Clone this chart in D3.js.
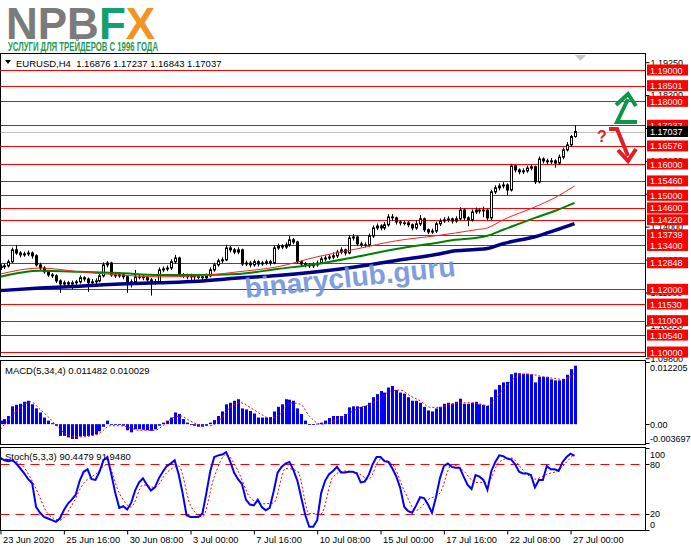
<!DOCTYPE html>
<html>
<head>
<meta charset="utf-8">
<script src="https://cdn.jsdelivr.net/npm/d3@7"></script>
<style>
body{margin:0;background:#fff;}
svg{display:block;font-family:'Liberation Sans',Arial,sans-serif;}
</style>
</head>
<body>
<div id="chart"></div>
<script>
// EURUSD H4, 23 Jun 2020 00:00 .. 27 Jul 2020 04:00 (146 bars)
const opens = [1.1270,1.1272,1.1275,1.1288,1.1326,1.1316,1.1310,1.1313,1.1316,1.1307,
 1.1278,1.1268,1.1256,1.1246,1.1243,1.1227,1.1217,1.1221,1.1217,1.1221,
 1.1224,1.1237,1.1233,1.1221,1.1224,1.1227,1.1243,1.1278,1.1284,1.1246,
 1.1243,1.1246,1.1240,1.1221,1.1224,1.1240,1.1240,1.1237,1.1230,1.1221,
 1.1224,1.1262,1.1265,1.1268,1.1288,1.1300,1.1246,1.1243,1.1240,1.1243,
 1.1240,1.1240,1.1237,1.1243,1.1262,1.1278,1.1291,1.1294,1.1332,1.1326,
 1.1319,1.1326,1.1281,1.1284,1.1278,1.1288,1.1281,1.1284,1.1288,1.1284,
 1.1332,1.1339,1.1335,1.1342,1.1358,1.1351,1.1288,1.1281,1.1278,1.1275,
 1.1278,1.1284,1.1297,1.1300,1.1303,1.1307,1.1319,1.1326,1.1316,1.1364,
 1.1367,1.1345,1.1342,1.1342,1.1370,1.1396,1.1402,1.1396,1.1406,1.1431,
 1.1428,1.1415,1.1412,1.1412,1.1406,1.1396,1.1409,1.1425,1.1390,1.1383,
 1.1386,1.1409,1.1418,1.1422,1.1425,1.1418,1.1425,1.1453,1.1428,1.1422,
 1.1447,1.1453,1.1450,1.1453,1.1428,1.1511,1.1524,1.1530,1.1533,1.1517,
 1.1594,1.1581,1.1575,1.1578,1.1587,1.1591,1.1543,1.1616,1.1610,1.1607,
 1.1610,1.1603,1.1622,1.1645,1.1661,1.16876];
const highs = [1.1280,1.1282,1.1295,1.1333,1.1342,1.1322,1.1320,1.1324,1.1321,1.1312,
 1.1285,1.1274,1.1262,1.1252,1.1248,1.1232,1.1228,1.1226,1.1228,1.1230,
 1.1244,1.1242,1.1238,1.1233,1.1235,1.1250,1.1286,1.1290,1.1288,1.1254,
 1.1253,1.1252,1.1244,1.1232,1.1262,1.1248,1.1246,1.1242,1.1236,1.1233,
 1.1270,1.1273,1.1276,1.1296,1.1310,1.1304,1.1252,1.1250,1.1250,1.1249,
 1.1247,1.1246,1.1250,1.1270,1.1285,1.1298,1.1302,1.1342,1.1338,1.1332,
 1.1334,1.1330,1.1292,1.1290,1.1295,1.1293,1.1291,1.1295,1.1294,1.1340,
 1.1346,1.1344,1.1350,1.1370,1.1364,1.1355,1.1292,1.1287,1.1284,1.1286,
 1.1292,1.1305,1.1308,1.1312,1.1318,1.1326,1.1334,1.1330,1.1372,1.1376,
 1.1371,1.1352,1.1350,1.1378,1.1404,1.1410,1.1408,1.1414,1.1440,1.1440,
 1.1432,1.1421,1.1420,1.1418,1.1410,1.1420,1.1437,1.1429,1.1394,1.1394,
 1.1416,1.1426,1.1430,1.1433,1.1429,1.1433,1.1462,1.1458,1.1433,1.1455,
 1.1461,1.1460,1.1464,1.1457,1.1518,1.1532,1.1538,1.1542,1.1538,1.1601,
 1.1598,1.1586,1.1586,1.1595,1.1600,1.1595,1.1624,1.1621,1.1617,1.1619,
 1.1615,1.1630,1.1652,1.1670,1.1693,1.17237];
const lows = [1.1262,1.1265,1.1270,1.1284,1.1310,1.1302,1.1304,1.1306,1.1298,1.1272,
 1.1262,1.1250,1.1240,1.1236,1.1220,1.1189,1.1208,1.1205,1.1200,1.1212,
 1.1218,1.1225,1.1192,1.1212,1.1216,1.1222,1.1238,1.1270,1.1240,1.1236,
 1.1237,1.1232,1.1189,1.1206,1.1218,1.1232,1.1229,1.1222,1.1180,1.1214,
 1.1220,1.1255,1.1258,1.1262,1.1282,1.1240,1.1236,1.1232,1.1230,1.1226,
 1.1232,1.1228,1.1230,1.1238,1.1256,1.1272,1.1284,1.1290,1.1318,1.1312,
 1.1312,1.1275,1.1274,1.1270,1.1272,1.1273,1.1275,1.1278,1.1276,1.1280,
 1.1326,1.1328,1.1329,1.1336,1.1344,1.1282,1.1273,1.1270,1.1268,1.1268,
 1.1272,1.1280,1.1290,1.1294,1.1296,1.1300,1.1312,1.1308,1.1312,1.1356,
 1.1338,1.1334,1.1334,1.1336,1.1364,1.1389,1.1388,1.1389,1.1400,1.1418,
 1.1407,1.1404,1.1404,1.1398,1.1388,1.1390,1.1402,1.1383,1.1376,1.1377,
 1.1380,1.1402,1.1412,1.1414,1.1410,1.1412,1.1420,1.1420,1.1402,1.1416,
 1.1440,1.1442,1.1430,1.1420,1.1420,1.1504,1.1516,1.1522,1.1500,1.1512,
 1.1573,1.1567,1.1568,1.1572,1.1580,1.1536,1.1538,1.1602,1.1598,1.1600,
 1.1588,1.1597,1.1615,1.1640,1.1655,1.16843];
const closes = [1.1272,1.1275,1.1288,1.1326,1.1316,1.1310,1.1313,1.1316,1.1307,1.1278,
 1.1268,1.1256,1.1246,1.1243,1.1227,1.1217,1.1221,1.1217,1.1221,1.1224,
 1.1237,1.1233,1.1221,1.1224,1.1227,1.1243,1.1278,1.1284,1.1246,1.1243,
 1.1246,1.1240,1.1221,1.1224,1.1240,1.1240,1.1237,1.1230,1.1221,1.1224,
 1.1262,1.1265,1.1268,1.1288,1.1300,1.1246,1.1243,1.1240,1.1243,1.1240,
 1.1240,1.1237,1.1243,1.1262,1.1278,1.1291,1.1294,1.1332,1.1326,1.1319,
 1.1326,1.1281,1.1284,1.1278,1.1288,1.1281,1.1284,1.1288,1.1284,1.1332,
 1.1339,1.1335,1.1342,1.1358,1.1351,1.1288,1.1281,1.1278,1.1275,1.1278,
 1.1284,1.1297,1.1300,1.1303,1.1307,1.1319,1.1326,1.1316,1.1364,1.1367,
 1.1345,1.1342,1.1342,1.1370,1.1396,1.1402,1.1396,1.1406,1.1431,1.1428,
 1.1415,1.1412,1.1412,1.1406,1.1396,1.1409,1.1425,1.1390,1.1383,1.1386,
 1.1409,1.1418,1.1422,1.1425,1.1418,1.1425,1.1453,1.1428,1.1422,1.1447,
 1.1453,1.1450,1.1453,1.1428,1.1511,1.1524,1.1530,1.1533,1.1517,1.1594,
 1.1581,1.1575,1.1578,1.1587,1.1591,1.1543,1.1616,1.1610,1.1607,1.1610,
 1.1603,1.1622,1.1645,1.1661,1.16876,1.17037];

// moving averages, read at these bars
const maBars = [0,10,20,30,40,50,60,70,80,90,100,110,115,120,123,127,135,140,145];
const maFast = [1.1249,1.1268,1.1256,1.1246,1.1240,1.1243,1.1256,1.1272,1.1304,1.1329,1.1355,1.1371,1.1380,1.1390,1.1396,1.1422,1.1463,1.1492,1.1530];
const maMid  = [1.1240,1.1259,1.1256,1.1252,1.1246,1.1246,1.1249,1.1265,1.1281,1.1304,1.1329,1.1348,1.1358,1.1364,1.1371,1.1390,1.1428,1.1450,1.1476];
const maSlow = [1.1196,1.1204,1.1210,1.1217,1.1221,1.1226,1.1236,1.1244,1.1256,1.1272,1.1292,1.1311,1.1323,1.1327,1.1330,1.1346,1.1368,1.1388,1.1410];

// horizontal levels drawn on the chart
const levels = [1.19000,1.18501,1.18000,1.17237,1.16576,1.16000,1.15460,1.15000,1.14600,1.14220,1.13739,1.13400,1.12848,1.12000,1.11530,1.11000,1.10540,1.10000];
const lastPrice = 1.17037;
const priceTicks = [1.19250,1.18200,1.17150,1.16100,1.15050,1.14000,1.12950,1.11900,1.10850,1.09800];

// MACD(5,34,4)
const macdHist = [0.0007,0.0010,0.0016,0.0035,0.0038,0.0040,0.0044,0.0046,0.0039,0.0031,
 0.0023,0.0013,0.0007,0.0002,-0.0003,-0.0023,-0.0023,-0.0026,-0.0029,-0.0029,
 -0.0024,-0.0023,-0.0023,-0.0022,-0.0020,-0.0014,-0.0005,0.0007,0.0000,0.0000,
 -0.0001,-0.0003,-0.0012,-0.0016,-0.0010,-0.0010,-0.0011,-0.0012,-0.0013,-0.0010,
 -0.0003,0.0003,0.0007,0.0013,0.0023,0.0020,0.0010,0.0003,-0.0001,-0.0003,
 -0.0005,-0.0005,-0.0003,0.0003,0.0008,0.0016,0.0025,0.0039,0.0042,0.0046,
 0.0049,0.0031,0.0029,0.0026,0.0021,0.0013,0.0013,0.0013,0.0014,0.0025,
 0.0034,0.0039,0.0049,0.0048,0.0046,0.0031,0.0020,0.0007,0.0000,-0.0001,
 0.0001,0.0003,0.0007,0.0012,0.0016,0.0016,0.0016,0.0020,0.0033,0.0035,
 0.0035,0.0034,0.0036,0.0042,0.0053,0.0059,0.0065,0.0062,0.0072,0.0075,
 0.0067,0.0062,0.0060,0.0053,0.0046,0.0046,0.0042,0.0034,0.0027,0.0025,
 0.0031,0.0034,0.0040,0.0042,0.0040,0.0044,0.0050,0.0040,0.0040,0.0042,
 0.0044,0.0039,0.0038,0.0036,0.0053,0.0068,0.0077,0.0082,0.0083,0.0098,
 0.0101,0.0100,0.0099,0.0099,0.0098,0.0082,0.0093,0.0093,0.0093,0.0088,
 0.0086,0.0086,0.0089,0.0097,0.0108,0.011482];
const macdSigBars = [0,2.5,5,7.6,10,12.6,15,17.7,20,22.7,25,27.8,30,33,35,39,41,43,45.5,48,50.5,53,55.6,58,60.6,63,65.7,68,70.7,73,75.8,78,81,83,86,88.4,91,93.5,96,98.5,101,103.6,106,108.6,111,113.7,116,118.7,121,123,124.6,127,129.8,132,134.7,137,139.8,142,145];
const macdSig = [-0.0010,0.0013,0.0033,0.0044,0.0029,0.0010,-0.0010,-0.0023,-0.0025,-0.0023,-0.0018,-0.0003,-0.0003,-0.0008,-0.0012,-0.0012,-0.0003,0.0010,0.0016,0.0006,-0.0002,-0.0003,0.0010,0.0033,0.0042,0.0033,0.0020,0.0012,0.0020,0.0042,0.0039,0.0016,0.0000,0.0003,0.0013,0.0023,0.0033,0.0039,0.0051,0.0065,0.0067,0.0055,0.0046,0.0033,0.0033,0.0039,0.0042,0.0042,0.0040,0.0036,0.0046,0.0069,0.0090,0.0098,0.0097,0.0093,0.0090,0.0088,0.010029];

// Stochastic(5,3,3)
const stochMain = [88,85,84,85,81,75,69,62,57,28,
 21,16,14,12,10,14,24,32,37,43,
 60,71,74,62,61,71,85,89,68,45,
 27,29,25,33,48,58,63,55,48,52,
 63,71,78,81,85,68,45,18,16,16,
 16,20,45,72,89,91,92,95,84,70,
 62,56,37,31,30,37,28,24,27,47,
 70,77,81,83,73,60,39,18,4,4,
 12,45,60,68,72,77,70,70,71,71,
 69,58,59,67,80,89,89,84,83,75,
 65,51,28,23,21,30,40,39,31,21,
 40,63,78,81,77,76,76,65,55,50,
 67,65,61,49,72,83,91,90,87,86,
 80,71,69,69,67,52,61,61,78,74,
 74,72,83,89,93,90.4479];
const stochSigBars = [0,3,6,9,12,15,18,21,24,27,30,33,36,39,42,45,48,51,54,57,60,63,66,69,72,75,78,81,84,87,90,93,96,99,102,105,108,111,114,117,120,123,126,129,132,135,138,141,144,145];
const stochSig = [86,85,76,50,20,12,30,57,68,80,45,28,55,52,70,78,30,16,65,92,72,40,32,33,75,72,20,20,65,72,70,62,86,80,48,24,37,45,80,72,58,58,83,88,73,62,68,73,88,91.948];

const timeBars = [0,16,32,48,64,80,96,112,128,144];
const timeLabels = ["23 Jun 2020","25 Jun 16:00","30 Jun 08:00","3 Jul 00:00","7 Jul 16:00","10 Jul 08:00","15 Jul 00:00","17 Jul 16:00","22 Jul 08:00","27 Jul 00:00"];

const W = 691, H = 549;
const panelL = 0.5, panelR = 645.5;
const panels = {
	main:  {top: 53.5,  bot: 356.5},
	macd:  {top: 360.5, bot: 444.5},
	stoch: {top: 447.5, bot: 530.5}
};
const fmt5 = d3.format(".5f");

const svg = d3.select("#chart").append("svg").attr("width", W).attr("height", H);

const xBar = d3.scaleLinear().domain([0, 145]).range([0.5, 574.5]);
const yMain = d3.scaleLinear().domain([1.10, 1.19]).range([352, 70]);
const yMacd = d3.scaleLinear().domain([-0.003697, 0.012205]).range([443, 362]);
const yStoch = d3.scaleLinear().domain([0, 100]).range([530, 448]);

function cx(i){ return Math.round(xBar(i)) + 0.5; }

// clip paths
const defs = svg.append("defs");
Object.keys(panels).forEach(function(k){
	defs.append("clipPath").attr("id", "clip-" + k)
		.append("rect")
		.attr("x", panelL).attr("y", panels[k].top)
		.attr("width", panelR - panelL).attr("height", panels[k].bot - panels[k].top);
});

// ---------- logo ----------
const logo = svg.append("text")
	.attr("x", 6).attr("y", 38.5)
	.style("font-weight", 700).style("font-size", "44px");
logo.append("tspan").attr("fill", "#7b7b7b").text("NPB");
logo.append("tspan").attr("fill", "#14a06e").text("F");
logo.append("tspan").attr("fill", "#f39322").text("X");
svg.append("text")
	.attr("x", 8).attr("y", 51)
	.attr("textLength", 150).attr("lengthAdjust", "spacingAndGlyphs")
	.style("font-weight", 700).style("font-size", "12px").attr("fill", "#1f9a55")
	.text("УСЛУГИ ДЛЯ ТРЕЙДЕРОВ С 1996 ГОДА");

// ---------- panel frames ----------
Object.keys(panels).forEach(function(k){
	svg.append("rect")
		.attr("x", panelL).attr("y", panels[k].top)
		.attr("width", panelR - panelL).attr("height", panels[k].bot - panels[k].top)
		.attr("fill", "#fff").attr("stroke", "#000").attr("stroke-width", 1)
		.attr("shape-rendering", "crispEdges");
});

// ---------- main panel ----------
const gMain = svg.append("g").attr("clip-path", "url(#clip-main)");

gMain.append("line")
	.attr("x1", panelL).attr("x2", panelR)
	.attr("y1", Math.round(yMain(lastPrice)) + 0.5).attr("y2", Math.round(yMain(lastPrice)) + 0.5)
	.attr("stroke", "#c0c0c0");

gMain.selectAll("line.level").data(levels).enter().append("line")
	.attr("class", "level")
	.attr("x1", panelL).attr("x2", panelR)
	.attr("y1", function(d){ return Math.round(yMain(d)) + 0.5; })
	.attr("y2", function(d){ return Math.round(yMain(d)) + 0.5; })
	.attr("stroke", "#ff0000").attr("stroke-width", 1);

// candles
const candles = gMain.selectAll("g.candle").data(closes).enter().append("g").attr("class", "candle");
candles.append("line")
	.attr("x1", function(d, i){ return cx(i); }).attr("x2", function(d, i){ return cx(i); })
	.attr("y1", function(d, i){ return yMain(highs[i]); })
	.attr("y2", function(d, i){ return yMain(lows[i]); })
	.attr("stroke", "#000").attr("stroke-width", 1);
candles.append("rect")
	.attr("x", function(d, i){ return cx(i) - 1; })
	.attr("width", 2)
	.attr("y", function(d, i){ return yMain(Math.max(opens[i], d)); })
	.attr("height", function(d, i){ return Math.max(0.5, Math.abs(yMain(opens[i]) - yMain(d))); })
	.attr("fill", function(d, i){ return d >= opens[i] ? "#fff" : "#000"; })
	.attr("stroke", "#000").attr("stroke-width", 1);

// moving averages
const maLine = d3.line()
	.x(function(d){ return xBar(d[0]); })
	.y(function(d){ return yMain(d[1]); })
	.curve(d3.curveMonotoneX);
[[maSlow, "#00008b", 3.5], [maMid, "#008000", 2], [maFast, "#ff2020", 1]].forEach(function(m){
	gMain.append("path")
		.datum(maBars.map(function(b, i){ return [b, m[0][i]]; }))
		.attr("d", maLine)
		.attr("fill", "none").attr("stroke", m[1]).attr("stroke-width", m[2]);
});

// watermark
gMain.append("text")
	.attr("transform", "translate(351,287) rotate(-6)")
	.attr("text-anchor", "middle")
	.style("font-weight", 700).style("font-size", "28px")
	.attr("fill", "#7294dc").attr("opacity", 0.9)
	.text("binaryclub.guru");

// header of main panel
svg.append("path").attr("d", "M5,60L11,60L8,64Z").attr("fill", "#000");
svg.append("text")
	.attr("x", 16).attr("y", 66.5)
	.style("font-size", "9.5px").style("white-space", "pre")
	.text("EURUSD,H4  1.16876 1.17237 1.16843 1.17037");
svg.append("path").attr("d", "M575,55L586,55L580.5,61Z").attr("fill", "#c8c8c8");

// arrows
svg.append("path").attr("d", "M637,122L617,122L628,99")
	.attr("fill", "none").attr("stroke", "#0e9648").attr("stroke-width", 4).attr("stroke-linejoin", "miter");
svg.append("path").attr("d", "M616,105L628,94L636,106")
	.attr("fill", "none").attr("stroke", "#0e9648").attr("stroke-width", 4);
svg.append("path").attr("d", "M609,129L617,129L628,156")
	.attr("fill", "none").attr("stroke", "#e31e24").attr("stroke-width", 4);
svg.append("path").attr("d", "M618,150L628,161L636,149")
	.attr("fill", "none").attr("stroke", "#e31e24").attr("stroke-width", 4);
svg.append("text").attr("x", 597).attr("y", 142)
	.style("font-weight", 700).style("font-size", "16px").attr("fill", "#e31e24").text("?");

// price axis
const axisMain = svg.append("g")
	.attr("transform", "translate(" + panelR + ",0)")
	.call(d3.axisRight(yMain).tickValues(priceTicks).tickFormat(fmt5).tickSize(4).tickPadding(1));
axisMain.select(".domain").remove();
axisMain.selectAll("text").style("font-size", "9px").style("font-family", "'Liberation Sans',Arial,sans-serif").attr("fill", "#000");

function priceLabel(v, bg){
	let y = yMain(v);
	svg.append("rect")
		.attr("x", 647).attr("y", y - 5.5).attr("width", 41).attr("height", 11)
		.attr("fill", bg);
	svg.append("text")
		.attr("x", 650).attr("y", y + 3.5)
		.style("font-size", "9px").attr("fill", "#fff")
		.text(fmt5(v));
}
levels.forEach(function(v){ priceLabel(v, "#ff0000"); });
priceLabel(lastPrice, "#000");

// ---------- MACD ----------
const gMacd = svg.append("g").attr("clip-path", "url(#clip-macd)");
gMacd.selectAll("rect.hist").data(macdHist).enter().append("rect")
	.attr("class", "hist")
	.attr("x", function(d, i){ return cx(i) - 1.5; })
	.attr("width", 3)
	.attr("y", function(d){ return Math.min(yMacd(d), yMacd(0)); })
	.attr("height", function(d){ return Math.max(0.8, Math.abs(yMacd(d) - yMacd(0))); })
	.attr("fill", "#0000ff");
gMacd.append("path")
	.datum(macdSigBars.map(function(b, i){ return [b, macdSig[i]]; }))
	.attr("d", d3.line().x(function(d){ return xBar(d[0]); }).y(function(d){ return yMacd(d[1]); }).curve(d3.curveMonotoneX))
	.attr("fill", "none").attr("stroke", "#ff0000").attr("stroke-width", 1).attr("stroke-dasharray", "2,2");
svg.append("text").attr("x", 5).attr("y", 373.5).style("font-size", "9.5px")
	.text("MACD(5,34,4) 0.011482 0.010029");

function sideLabel(scale, v, label, p){
	let y = Math.min(Math.max(scale(v), p.top + 6.5), p.bot - 6.5);
	svg.append("line").attr("x1", panelR).attr("x2", panelR + 4)
		.attr("y1", Math.round(scale(v)) + 0.5).attr("y2", Math.round(scale(v)) + 0.5)
		.attr("stroke", "#000");
	svg.append("text").attr("x", 650).attr("y", y + 3.5).style("font-size", "9px").text(label);
}
sideLabel(yMacd, 0.012205, "0.012205", panels.macd);
sideLabel(yMacd, 0, "0.00", panels.macd);
sideLabel(yMacd, -0.003697, "-0.003697", panels.macd);

// ---------- Stochastic ----------
const gStoch = svg.append("g").attr("clip-path", "url(#clip-stoch)");
[80, 20].forEach(function(v){
	gStoch.append("line")
		.attr("x1", panelL).attr("x2", panelR)
		.attr("y1", Math.round(yStoch(v)) + 0.5).attr("y2", Math.round(yStoch(v)) + 0.5)
		.attr("stroke", "#ff0000").attr("stroke-dasharray", "9,6");
});
gStoch.append("path")
	.datum(stochSigBars.map(function(b, i){ return [b, stochSig[i]]; }))
	.attr("d", d3.line().x(function(d){ return xBar(d[0]); }).y(function(d){ return yStoch(d[1]); }).curve(d3.curveMonotoneX))
	.attr("fill", "none").attr("stroke", "#ff0000").attr("stroke-width", 1).attr("stroke-dasharray", "2,2");
gStoch.append("path")
	.datum(stochMain)
	.attr("d", d3.line().x(function(d, i){ return xBar(i); }).y(function(d){ return yStoch(d); }))
	.attr("fill", "none").attr("stroke", "#0000ff").attr("stroke-width", 2);
svg.append("text").attr("x", 5).attr("y", 459.5).style("font-size", "9.5px")
	.text("Stoch(5,3,3) 90.4479 91.9480");
sideLabel(yStoch, 100, "100", panels.stoch);
sideLabel(yStoch, 80, "80", panels.stoch);
sideLabel(yStoch, 20, "20", panels.stoch);
sideLabel(yStoch, 0, "0", panels.stoch);

// ---------- time axis ----------
const axisTime = svg.append("g")
	.attr("transform", "translate(0," + panels.stoch.bot + ")")
	.call(d3.axisBottom(xBar).tickValues(timeBars)
		.tickFormat(function(d, i){ return timeLabels[i]; })
		.tickSize(4).tickPadding(2));
axisTime.select(".domain").remove();
axisTime.selectAll("text")
	.attr("text-anchor", "start").attr("x", 2)
	.style("font-size", "9.3px").style("font-family", "'Liberation Sans',Arial,sans-serif").attr("fill", "#000");
</script>
</body>
</html>
